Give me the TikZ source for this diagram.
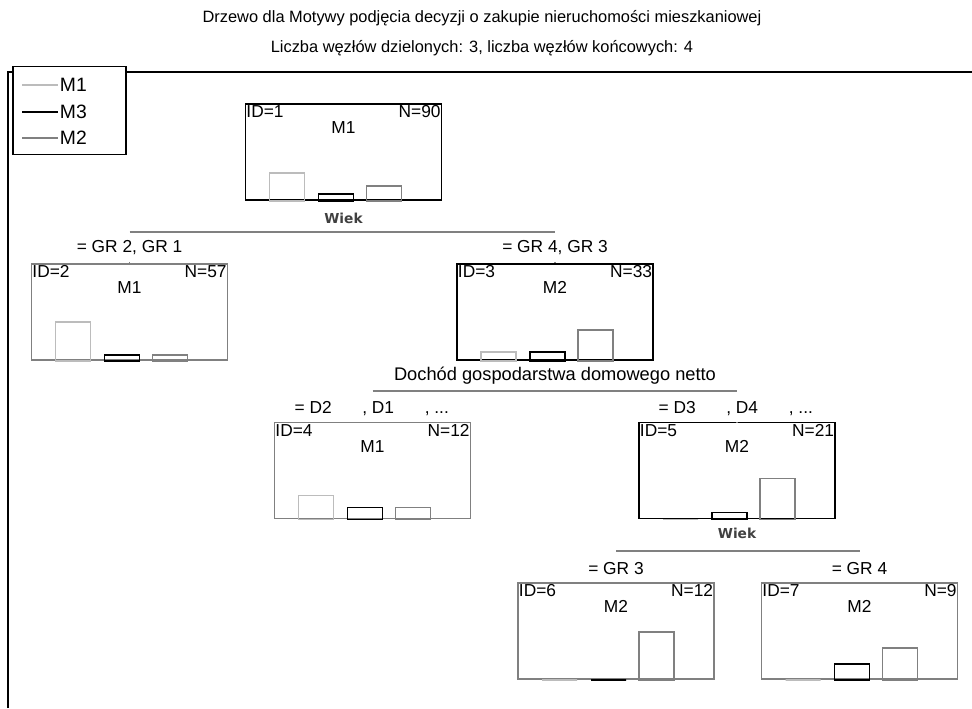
\documentclass[tikz,border=0pt]{standalone}
\usepackage{fontspec}
\setmainfont{Liberation Sans}
\newfontfamily\wiekfont{DejaVu Sans}
\usetikzlibrary{positioning,calc}
\definecolor{lgray}{RGB}{188,188,188}
\definecolor{mgray}{RGB}{128,128,128}
\tikzset{tnode/.style={draw=black,line width=1.4pt,minimum width=147pt,minimum height=72pt,inner sep=0pt},
 leaf/.style={tnode,draw=mgray},
 bar/.style={line width=1.1pt},
 split/.style={draw=mgray,line width=1.2pt},
 var/.style={font=\wiekfont\bfseries\fontsize{10.3}{12}\selectfont,text=black!75},
 cond/.style={inner sep=1pt,minimum height=20.5pt}}
\newcommand{\hist}[4]{\draw[bar,lgray]($(#1.south west)+(25,0)$) rectangle ++(35,-#2);
 \draw[bar,black]($(#1.south west)+(74,0)$) rectangle ++(35,-#3);
 \draw[bar,mgray]($(#1.south west)+(122,0)$) rectangle ++(35,-#4);}
\newcommand{\info}[4]{\node[anchor=base west,inner sep=1.2pt](#1id) at($(#1.north west)+(0,14.5)$){ID=#2};
 \node[anchor=base east,inner sep=1.2pt](#1n) at($(#1.north east)+(0,14.5)$){N=#3};
 \node[anchor=base](#1m) at($(#1.north)+(0,30.5)$){#4};}

\begin{document}
\begin{tikzpicture}[x=0.75pt,y=-0.75pt,font=\fontsize{13}{15}\selectfont]
\useasboundingbox(0,0) rectangle (972,708);
\node[font=\fontsize{12.3}{14}\selectfont](t1) at(482,18){Drzewo dla Motywy podjęcia decyzji o zakupie nieruchomości mieszkaniowej};
\node[font=\fontsize{12.3}{14}\selectfont](t2) at(482,48){Liczba węzłów dzielonych: 3, liczba węzłów końcowych: 4};
\draw[line width=2pt](8,708)--(8,72)--(972,72);
\node[draw,line width=1.4pt,fill=white,minimum width=84.75pt,minimum height=66pt](lg) at(69.5,110.5){};
\foreach \c/\m/\y in {lgray/M1/85,black/M3/112,mgray/M2/138}
 \draw[\c,line width=1pt](22,\y)--(58,\y) node[right,text=black,inner sep=1pt,font=\fontsize{14.5}{16}\selectfont](lg\m){\m};
\node[tnode](n1) at(343.5,152){};
\node[leaf](n2) at(129.5,312){};\node[tnode](n3) at(555,312){};
\node[leaf](n4) at(372.5,470.5){};\node[tnode](n5) at(737,470.5){};
\node[leaf](n6) at(616,631){};\node[leaf](n7) at(859.5,631){};
\info{n1}{1}{90}{M1}\info{n2}{2}{57}{M1}\info{n3}{3}{33}{M2}\info{n4}{4}{12}{M1}
\info{n5}{5}{21}{M2}\info{n6}{6}{12}{M2}\info{n7}{7}{9}{M2}
\hist{n1}{28}{7}{15}\hist{n2}{39}{6}{6}\hist{n3}{9}{9}{31}\hist{n4}{24}{12}{12}
\hist{n5}{0}{7}{41}\hist{n6}{0}{0}{48}\hist{n7}{0}{16}{32}
\node[var](w1) at(343.5,218){Wiek};
\node[cond](c2) at(129.5,248){= GR 2, GR 1};\node[cond](c3) at(555,248){= GR 4, GR 3};
\node[font=\fontsize{13.7}{16}\selectfont](v2) at(555,376){Dochód gospodarstwa domowego netto};
\node[cond,anchor=west](c4) at(293,409){= D2\hspace{23pt}, D1\hspace{23pt}, ...};
\node[cond,anchor=west](c5) at(657,409){= D3\hspace{23pt}, D4\hspace{23pt}, ...};
\node[var](w2) at(737,533){Wiek};
\node[cond](c6) at(616,568.5){= GR 3};\node[cond](c7) at(859.5,568.5){= GR 4};
\coordinate(s1) at(0,232);\coordinate(s2) at(0,391);\coordinate(s3) at(0,551);
\draw[split](n2.north|-s1)--(n3.north|-s1)(n4.north|-s2)--(n5.north|-s2)(n6.north|-s3)--(n7.north|-s3);
\foreach \n/\c in {n2/c2,n3/c3,n4/c4,n5/c5,n6/c6,n7/c7}
 \draw[split](\n.north|-\c.south)--(\n.north);
\end{tikzpicture}
\end{document}
